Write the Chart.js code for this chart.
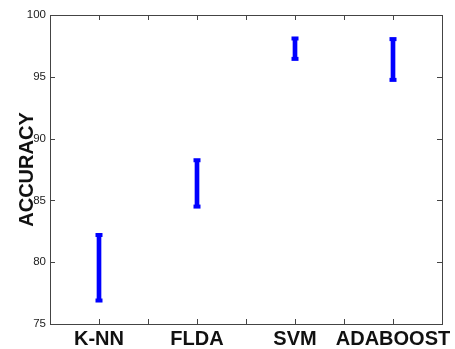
<!DOCTYPE html>
<html>
<head>
<meta charset="utf-8">
<script src="https://cdn.jsdelivr.net/npm/chart.js@4"></script>
<style>
  html, body { margin: 0; padding: 0; background: #fff; }
  #wrap { width: 455px; height: 349px; }
</style>
</head>
<body>
<div id="wrap"><canvas id="accChart" width="455" height="349"></canvas></div>
<script>
// classifier names and accuracy ranges (min / max)
const methods = ['K-NN', 'FLDA', 'SVM', 'ADABOOST'];
const lowAcc = [76.9, 84.5, 96.45, 94.75];
const highAcc = [82.2, 88.25, 98.1, 98.05];
const yTicks = [75, 80, 85, 90, 95, 100];

const ranges = methods.map((m, i) => ({ x: i + 1, y: [lowAcc[i], highAcc[i]] }));
const caps = [];
methods.forEach((m, i) => {
    caps.push({ x: i + 1, y: lowAcc[i] });
    caps.push({ x: i + 1, y: highAcc[i] });
});

// MATLAB-like box with inward ticks on all four sides
const boxTicks = {
    id: 'boxTicks',
    afterDraw(chart) {
        const ctx = chart.ctx;
        const a = chart.chartArea;
        const xs = chart.scales.x, ys = chart.scales.y;
        ctx.save();
        ctx.strokeStyle = '#444';
        ctx.lineWidth = 1;
        ctx.strokeRect(Math.round(a.left) + 0.5, Math.round(a.top) + 0.5,
            Math.round(a.right - a.left), Math.round(a.bottom - a.top));
        ctx.beginPath();
        xs.ticks.forEach(t => {
            const px = Math.round(xs.getPixelForValue(t.value)) + 0.5;
            ctx.moveTo(px, a.bottom); ctx.lineTo(px, a.bottom - 5);
            ctx.moveTo(px, a.top); ctx.lineTo(px, a.top + 5);
        });
        ys.ticks.forEach(t => {
            const py = Math.round(ys.getPixelForValue(t.value)) + 0.5;
            ctx.moveTo(a.left, py); ctx.lineTo(a.left + 5, py);
            ctx.moveTo(a.right, py); ctx.lineTo(a.right - 5, py);
        });
        ctx.stroke();
        ctx.restore();
    }
};

new Chart(document.getElementById('accChart').getContext('2d'), {
    type: 'bar',
    data: {
        datasets: [{
            type: 'bar',
            data: ranges,
            backgroundColor: '#0000ff',
            borderWidth: 0,
            barThickness: 4
        }, {
            type: 'scatter',
            data: caps,
            pointStyle: 'line',
            pointRadius: 3.5,
            borderColor: '#0000ff',
            borderWidth: 4,
            pointHoverRadius: 3.5
        }]
    },
    options: {
        responsive: false,
        animation: false,
        layout: { padding: { top: 15, right: 13, left: 0, bottom: 0 } },
        plugins: { legend: { display: false }, tooltip: { enabled: false } },
        scales: {
            x: {
                type: 'linear',
                offset: false,
                min: 0.5,
                max: 4.5,
                grid: { display: false, drawTicks: false, offset: false },
                border: { display: false },
                afterBuildTicks: axis => {
                    const t = [];
                    for (let v = 1; v <= 4; v += 0.5) t.push({ value: v });
                    axis.ticks = t;
                },
                afterFit: axis => { axis.height = 25; },
                ticks: {
                    autoSkip: false,
                    maxRotation: 0,
                    padding: 3,
                    color: '#111',
                    font: { family: 'Liberation Sans, Arial', size: 20, weight: 'bold' },
                    callback: v => Number.isInteger(v) ? methods[v - 1] : ''
                }
            },
            y: {
                min: 75,
                max: 100,
                grid: { display: false, drawTicks: false },
                border: { display: false },
                afterBuildTicks: axis => { axis.ticks = yTicks.map(v => ({ value: v })); },
                afterFit: axis => { axis.width = 50; },
                ticks: {
                    padding: 4,
                    color: '#222',
                    font: { family: 'Liberation Sans, Arial', size: 11.5 }
                },
                title: {
                    display: true,
                    text: 'ACCURACY',
                    color: '#111',
                    padding: { top: 15, bottom: 0 },
                    font: { family: 'Liberation Sans, Arial', size: 20, weight: 'bold' }
                }
            }
        }
    },
    plugins: [boxTicks]
});
</script>
</body>
</html>
